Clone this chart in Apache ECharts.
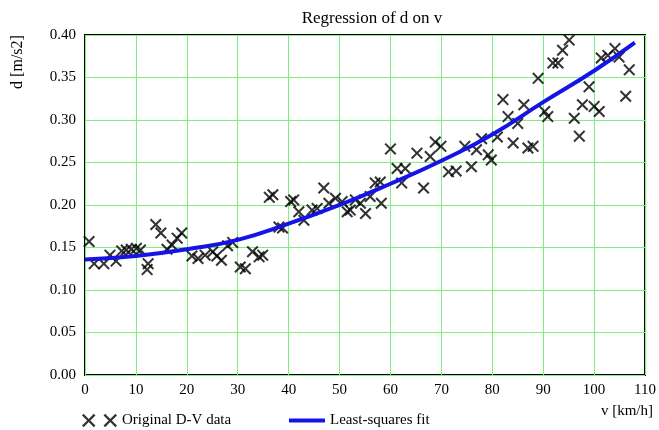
<!DOCTYPE html>
<html>
<head>
<meta charset="utf-8">
<script src="https://cdn.jsdelivr.net/npm/echarts@6/dist/echarts.min.js"></script>
<style>
html, body { margin: 0; padding: 0; background: #fff; }
#chart { width: 659px; height: 430px; }
</style>
</head>
<body>
<div id="chart"></div>
<script>
// measured points, v in km/h, d in m/s2
var speedV = [0.8, 1.8, 3.7, 4.9, 6.1, 7.2, 8.1, 9.1, 10.1, 10.9, 12.2, 12.4, 13.9, 14.9, 16.1, 17.1, 18.1, 19.0,
    21.0, 22.2, 23.6, 25.1, 25.9, 26.8, 28.0, 29.0, 30.5, 31.5, 32.9, 34.2, 34.9,
    36.2, 36.9, 38.1, 38.8, 40.4, 41.0, 42.0, 43.0, 44.6, 45.6, 46.9, 47.9, 49.2,
    50.5, 51.5, 52.1, 53.1, 54.1, 55.1, 56.0, 57.0, 58.0, 58.2, 60.0, 61.3, 62.2, 62.9,
    65.2, 66.5, 67.8, 68.8, 69.9, 71.4, 72.9, 74.6, 75.9, 76.9, 77.9, 79.2, 79.8,
    81.0, 82.1, 83.1, 84.1, 85.0, 86.2, 87.0, 88.0, 89.0, 90.3, 90.9, 91.9, 92.9, 93.8,
    95.1, 96.1, 97.1, 97.7, 99.0, 100.0, 101.0, 101.4, 102.7, 104.1, 104.9, 106.2, 106.9];
var decelD = [0.157, 0.131, 0.131, 0.141, 0.134, 0.146, 0.147, 0.148, 0.149, 0.147, 0.124, 0.131, 0.177, 0.167, 0.148, 0.153, 0.161, 0.167,
    0.140, 0.137, 0.141, 0.145, 0.140, 0.135, 0.152, 0.156, 0.127, 0.125, 0.145, 0.139, 0.141,
    0.209, 0.212, 0.174, 0.173, 0.204, 0.206, 0.192, 0.182, 0.194, 0.196, 0.220, 0.202, 0.208,
    0.204, 0.192, 0.194, 0.206, 0.202, 0.190, 0.210, 0.226, 0.227, 0.202, 0.266, 0.243, 0.226, 0.243,
    0.261, 0.220, 0.257, 0.274, 0.269, 0.239, 0.240, 0.269, 0.245, 0.265, 0.278, 0.259, 0.253,
    0.280, 0.324, 0.304, 0.273, 0.296, 0.318, 0.267, 0.269, 0.349, 0.310, 0.304, 0.367, 0.367, 0.382,
    0.394, 0.302, 0.281, 0.318, 0.339, 0.316, 0.310, 0.373, 0.376, 0.384, 0.374, 0.328, 0.359];

// fitted curve
var fitV = [0, 10, 20, 30, 40, 50, 60, 70, 80, 90, 100, 108];
var fitD = [0.136, 0.140, 0.148, 0.159, 0.178, 0.200, 0.225, 0.252, 0.283, 0.321, 0.358, 0.391];

var xTicks = [0, 110, 10];
var yTicks = [0, 0.4, 0.05];

// x mark drawn as a filled outline
var crossPath = 'path://M0,1.2L1.2,0L5,3.8L8.8,0L10,1.2L6.2,5L10,8.8L8.8,10L5,6.2L1.2,10L0,8.8L3.8,5Z';
var crossPair = 'path://M0,1.2L1.2,0L5,3.8L8.8,0L10,1.2L6.2,5L10,8.8L8.8,10L5,6.2L1.2,10L0,8.8L3.8,5Z' +
    'M16,1.2L17.2,0L21,3.8L24.8,0L26,1.2L22.2,5L26,8.8L24.8,10L21,6.2L17.2,10L16,8.8L19.8,5Z';

var font = '"Liberation Serif", "DejaVu Serif", serif';

function pairs(xs, ys) {
    var out = [];
    for (var i = 0; i < xs.length; i++) {
        out.push([xs[i], ys[i]]);
    }
    return out;
}

var myChart = echarts.init(document.getElementById('chart'), null, {renderer: 'canvas'});
var option = {
    animation: false,
    title: {
        text: 'Regression of d on v',
        left: 367,
        top: 5,
        textAlign: 'center',
        textStyle: {fontFamily: font, fontSize: 17, fontWeight: 'normal', color: '#000'}
    },
    grid: {
        left: 85, right: 12, top: 35, bottom: 55,
        show: true, borderColor: '#000', borderWidth: 2
    },
    legend: [{
        left: 77, top: 408,
        itemWidth: 35, itemHeight: 13.5, itemGap: 10,
        textStyle: {fontFamily: font, fontSize: 15, color: '#000'},
        data: [{name: 'Original D-V data', icon: crossPair, itemStyle: {color: '#000'}}]
    }, {
        left: 284, top: 408,
        itemWidth: 36, itemHeight: 4,
        textStyle: {fontFamily: font, fontSize: 15, color: '#000'},
        data: [{name: 'Least-squares fit', icon: 'rect', itemStyle: {color: '#1414e6'}}]
    }],
    xAxis: {
        type: 'value',
        min: xTicks[0], max: xTicks[1], interval: xTicks[2],
        axisLine: {show: false},
        axisTick: {show: false},
        axisLabel: {fontFamily: font, fontSize: 15, color: '#000', margin: 8},
        splitLine: {show: true, lineStyle: {color: '#7ef07e', width: 1}}
    },
    yAxis: {
        type: 'value',
        min: yTicks[0], max: yTicks[1], interval: yTicks[2],
        axisLine: {show: false},
        axisTick: {show: false},
        axisLabel: {
            fontFamily: font, fontSize: 15, color: '#000', margin: 9,
            padding: [12, 0, 0, 0],
            formatter: function (v) { return v.toFixed(2); }
        },
        splitLine: {show: true, lineStyle: {color: '#7ef07e', width: 1}}
    },
    graphic: [{
        type: 'text',
        x: 18, y: 62,
        rotation: Math.PI / 2,
        style: {
            text: 'd [m/s2]', font: '16px ' + font, fill: '#000',
            align: 'center', verticalAlign: 'middle'
        }
    }, {
        type: 'text',
        x: 653, y: 411,
        style: {
            text: 'v [km/h]', font: '15px ' + font, fill: '#000',
            align: 'right', verticalAlign: 'middle'
        }
    }],
    series: [{
        name: 'Original D-V data',
        type: 'scatter',
        symbol: crossPath,
        symbolSize: 12,
        itemStyle: {color: '#000'},
        data: pairs(speedV, decelD)
    }, {
        name: 'Least-squares fit',
        type: 'line',
        smooth: true,
        showSymbol: false,
        lineStyle: {color: '#1414e6', width: 4},
        itemStyle: {color: '#1414e6'},
        z: 3,
        data: pairs(fitV, fitD)
    }]
};
myChart.setOption(option);
</script>
</body>
</html>
